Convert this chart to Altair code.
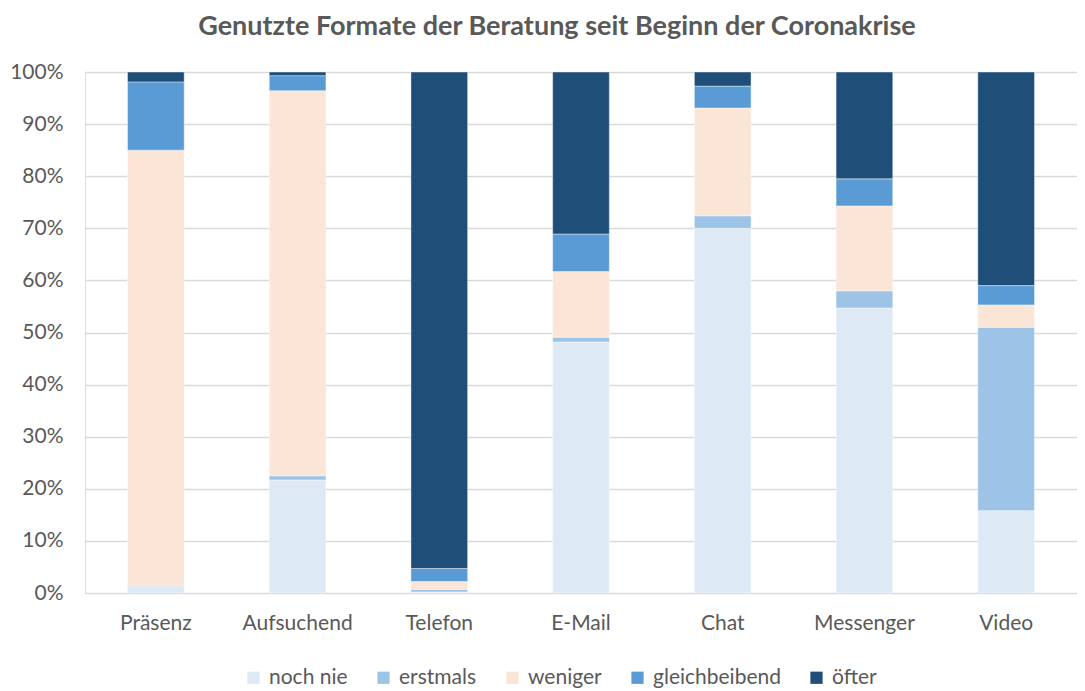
import altair as alt
import pandas as pd

categories = ["Präsenz", "Aufsuchend", "Telefon", "E-Mail", "Chat", "Messenger", "Video"]
series = ["noch nie", "erstmals", "weniger", "gleichbeibend", "öfter"]
colors = ["#DDEAF6", "#9DC3E6", "#FBE5D6", "#5B9BD5", "#1F4E79"]

noch_nie      = [1.3, 21.7, 0.2, 48.2, 70.0, 54.7, 15.8]
erstmals      = [0.2, 0.8, 0.5, 0.9, 2.4, 3.3, 35.2]
weniger       = [83.5, 73.9, 1.5, 12.6, 20.7, 16.3, 4.3]
gleichbeibend = [13.1, 2.9, 2.5, 7.2, 4.2, 5.2, 3.7]
oefter        = [1.9, 0.7, 95.3, 31.1, 2.7, 20.5, 41.0]

values = [noch_nie, erstmals, weniger, gleichbeibend, oefter]
rows = []
for si, (s, vals) in enumerate(zip(series, values)):
    for c, v in zip(categories, vals):
        rows.append({"Format": c, "Serie": s, "idx": si, "Anteil": v / 100.0})
df = pd.DataFrame(rows)

FONT = "Lato"
TXT = "#595959"

chart = alt.Chart(df).mark_bar(stroke="white", strokeWidth=0.6, strokeOpacity=0.7).encode(
    x=alt.X("Format:N", sort=categories, title=None,
            scale=alt.Scale(paddingInner=0.6, paddingOuter=0.3),
            axis=alt.Axis(labelAngle=0, labelFont=FONT, labelFontSize=21, labelColor=TXT,
                          ticks=False, domain=False, labelPadding=19)),
    y=alt.Y("Anteil:Q", stack="zero", title=None,
            scale=alt.Scale(domain=[0, 1], nice=False),
            axis=alt.Axis(format=".0%", values=[i / 10 for i in range(11)],
                          labelFont=FONT, labelFontSize=21, labelColor=TXT,
                          ticks=False, domain=False, labelPadding=22,
                          grid=True, gridColor="#D9D9D9", gridWidth=1.5)),
    color=alt.Color("Serie:N", sort=series,
                    scale=alt.Scale(domain=series, range=colors),
                    legend=alt.Legend(title=None, orient="none", direction="horizontal",
                                      legendX=158, legendY=595,
                                      symbolType="square", symbolSize=150,
                                      symbolStrokeWidth=0, labelFont=FONT,
                                      labelFontSize=21, labelColor=TXT,
                                      columnPadding=25, labelOffset=5)),
    order=alt.Order("idx:Q", sort="ascending"),
).properties(
    width=992,
    height=521,
    title=alt.TitleParams("Genutzte Formate der Beratung seit Beginn der Coronakrise",
                          font=FONT, fontSize=27, fontWeight="bold", color=TXT,
                          anchor="middle", dx=-24, offset=20),
    autosize=alt.AutoSizeParams(type="none"),
    padding={"left": 77, "top": 64, "right": 0, "bottom": 98},
).configure_view(stroke=None).configure(background="white")

chart.save("out.html", embed_options={"renderer": "svg", "actions": False})
